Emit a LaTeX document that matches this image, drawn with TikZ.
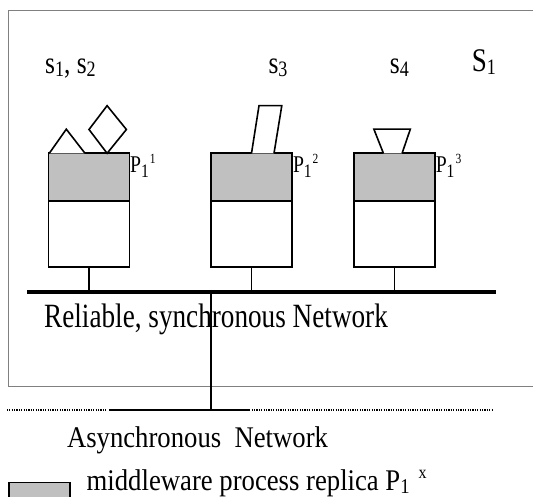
\documentclass[tikz,border=0pt]{standalone}
\usepackage{fontspec}
\setmainfont{Liberation Serif}
\newfontfamily\fcA[FakeStretch=0.80]{Liberation Serif}
\newfontfamily\fcB[FakeStretch=0.89]{Liberation Serif}
\newfontfamily\fcC[FakeStretch=0.82]{Liberation Serif}
\definecolor{replgray}{HTML}{C0C0C0}
\definecolor{framegray}{HTML}{808080}
\newcommand\lowsub[1]{\raisebox{-3pt}{\fontsize{22}{22}\selectfont #1}}
\newcommand\plabel[1]{P\raisebox{-5pt}{\fontsize{19}{19}\selectfont 1}\hspace{1pt}\raisebox{9pt}{\fontsize{14}{14}\selectfont #1}}
\begin{document}
\begin{tikzpicture}[x=1pt,y=-1pt,
  replbox/.style={draw=black, line width=1.8pt, fill=replgray, minimum width=81pt, minimum height=47.6pt, inner sep=0pt, outer sep=0pt},
  procbox/.style={draw=black, line width=1.8pt, fill=white, minimum width=81pt, minimum height=66pt, inner sep=0pt, outer sep=0pt},
  serv/.style={draw=black, line width=1.6pt, fill=white, line join=miter},
  wire/.style={line width=1.4pt},
  busline/.style={line width=4pt},
  dotline/.style={line width=2pt, dash pattern=on 1.2pt off 1.2pt},
  lbl/.style={anchor=base west, inner sep=0pt, outer sep=0pt}]
\useasboundingbox (0,0) rectangle (533,497);
\clip (0,0) rectangle (533,497);
% frame of S1
\draw[framegray, line width=1pt] (8.2,10.2) rectangle (545,386.6);
% replicas and processes
\node[replbox] (g1) at (89.05,177.1) {};
\node[procbox, anchor=north] (w1) at (g1.south) {};
\node[replbox] (g2) at (251.7,177.1) {};
\node[procbox, anchor=north] (w2) at (g2.south) {};
\node[replbox] (g3) at (394.3,177.1) {};
\node[procbox, anchor=north] (w3) at (g3.south) {};
\draw[line width=1.8pt] (g1.north west) rectangle (w1.south east);
\draw[line width=1.8pt] (g2.north west) rectangle (w2.south east);
\draw[line width=1.8pt] (g3.north west) rectangle (w3.south east);
% services
\draw[serv] (49.3,153.3) -- (66.3,129.2) -- (85,153.3);
\draw[serv] (107.1,105.7) -- (126.4,129.5) -- (107.1,153.3) -- (89,129.5) -- cycle;
\draw[serv] (251.5,153.3) -- (259,105.7) -- (281.8,105.7) -- (274,153.3);
\draw[serv] (383.4,153.3) -- (373.9,129.2) -- (410.3,129.2) -- (402.1,153.3);
% bus
\coordinate (busL) at (27.2,291.8);
\coordinate (busR) at (496.3,291.8);
\draw[wire] (w1.south) -- (w1.south |- busL);
\draw[wire] (w2.south) -- (w2.south |- busL);
\draw[wire] (w3.south) -- (w3.south |- busL);
\draw[busline] (busL) -- (busR);
% labels
\node[lbl, font=\fcC\fontsize{31}{31}\selectfont] (s12) at (45.2,73.5) {s\lowsub{1}, s\lowsub{2}};
\node[lbl, font=\fcC\fontsize{31}{31}\selectfont] (s3) at (268.5,73.5) {s\lowsub{3}};
\node[lbl, font=\fcC\fontsize{31}{31}\selectfont] (s4) at (389.9,73.5) {s\lowsub{4}};
\node[lbl, font=\fcC\fontsize{33}{33}\selectfont] (S1) at (471.8,72) {S\lowsub{1}};
\node[lbl, font=\fcC\fontsize{24}{24}\selectfont] (p1) at (130.2,173) {\plabel{1}};
\node[lbl, font=\fcC\fontsize{24}{24}\selectfont] (p2) at (293,173) {\plabel{2}};
\node[lbl, font=\fcC\fontsize{24}{24}\selectfont] (p3) at (435.8,173) {\plabel{3}};
\node[lbl, font=\fcA\fontsize{34}{34}\selectfont] (rel) at (44.2,327) {Reliable, synchronous Network};
% gateway to the asynchronous network
\coordinate (gwtop) at (211,291.8);
\coordinate (gwbot) at (211,409.8);
\draw[wire] (gwtop) -- (gwbot);
\coordinate (a0) at (6.8,409.8);
\coordinate (a1) at (107,409.8);
\coordinate (a2) at (109.4,409.8);
\coordinate (a3) at (249.8,409.8);
\coordinate (a4) at (251.5,409.8);
\coordinate (a5) at (493.5,409.8);
\draw[dotline] (a0) -- (a1);
\draw[wire] (a2) -- (a3);
\draw[dotline] (a4) -- (a5);
\node[lbl, font=\fcB\fontsize{30}{30}\selectfont] (async) at (67,447.5) {Asynchronous~~Network};
% legend
\node[draw=black, line width=1.6pt, fill=replgray, minimum width=60.8pt, minimum height=30pt, inner sep=0pt, anchor=north west] (leg) at (8.2,481.8) {};
\node[lbl, font=\fcB\fontsize{30}{30}\selectfont] (legtxt) at (86.7,490) {middleware process replica P\raisebox{-3pt}{\fontsize{21}{21}\selectfont 1}\hspace{9pt}\raisebox{12pt}{\fontsize{18}{18}\selectfont x}};
\end{tikzpicture}
\end{document}
